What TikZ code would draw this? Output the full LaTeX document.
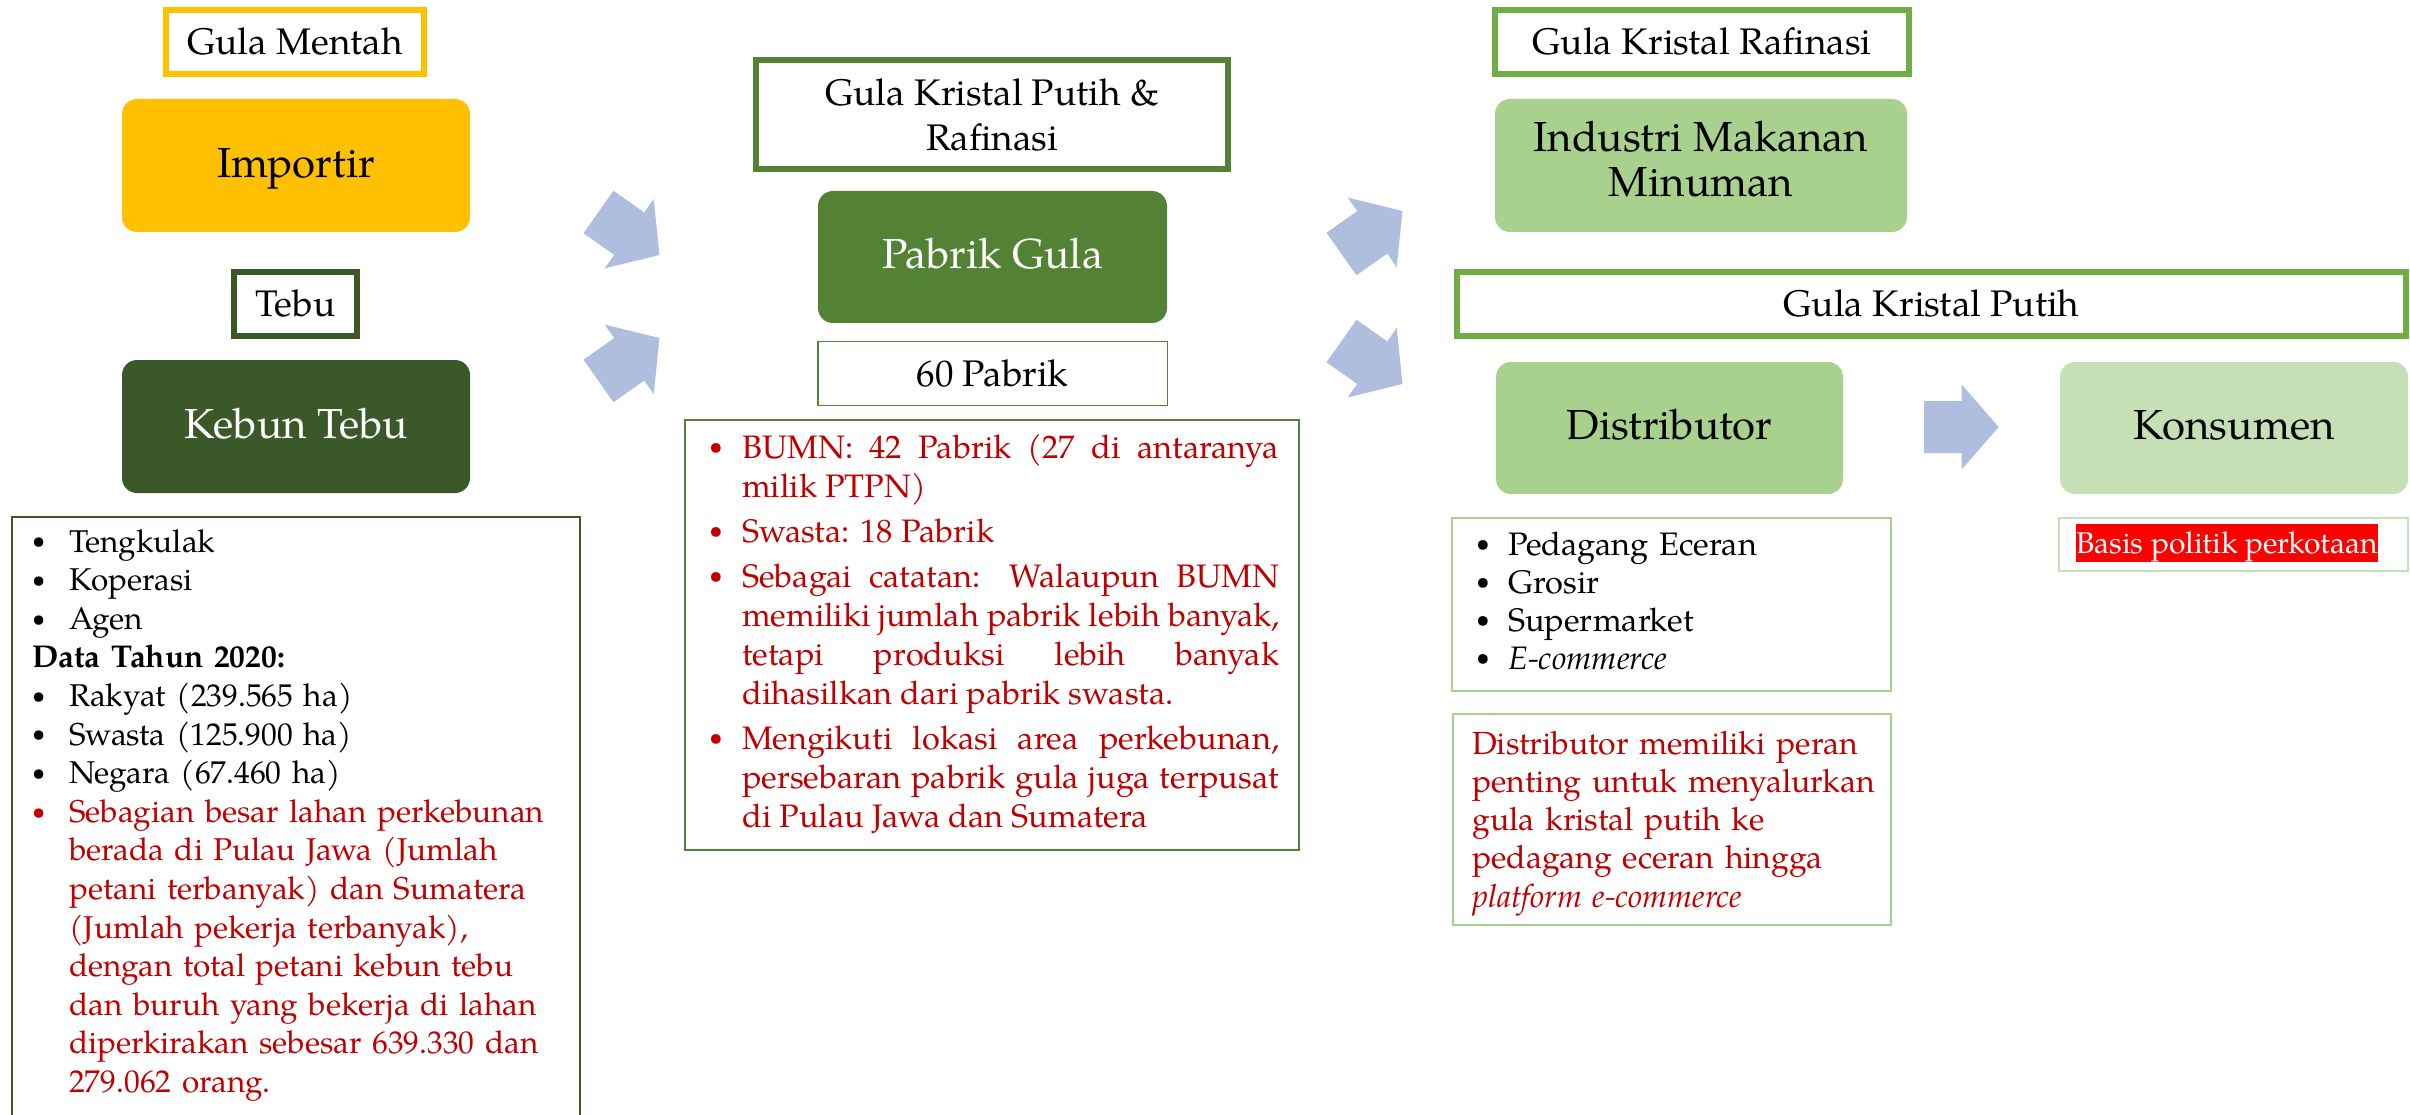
\documentclass[tikz,border=0pt]{standalone}
\usepackage{graphicx}
\usepackage{fontspec}
\setmainfont{TeX Gyre Pagella}
\definecolor{cyellow}{HTML}{FFC000}
\definecolor{cdark}{HTML}{3B5828}
\definecolor{cmid}{HTML}{548235}
\definecolor{clight}{HTML}{70AD47}
\definecolor{cfill}{HTML}{A9D18E}
\definecolor{cpale}{HTML}{C5E0B4}
\definecolor{carrow}{HTML}{AFBDDF}
\definecolor{cred}{HTML}{C00000}
\newcommand\mybul{\raisebox{0.1em}{\scalebox{0.75}{\textbullet}}}
\newcommand\itm[2]{\hangindent=#1\hangafter=1\noindent\hbox to #1{\mybul\hfil}#2\par}
\newcommand\blockarrow[2]{\fill[carrow, shift={(#1)}, rotate=#2] (0,-26) -- (37.6,-26) -- (37.6,-42.5) -- (74.6,0) -- (37.6,42.5) -- (37.6,26) -- (0,26) -- cycle;}
\begin{document}
\begin{tikzpicture}[x=1pt,y=-1pt,
  boxline/.style={draw, line width=6pt, fill=white, inner sep=0pt, font=\fontsize{37}{45}\selectfont},
  onel/.style={text height=33pt, text depth=8pt},
  rbox/.style={rounded corners=15pt, inner sep=0pt, font=\fontsize{42}{45}\selectfont},
  onem/.style={text height=33.6pt, text depth=10.5pt},
  thinbox/.style={line width=2pt, inner sep=0pt},
  txt/.style={anchor=base west, inner sep=0pt}]
\path[use as bounding box] (0,0) rectangle (2410,1115);
\clip (0,0) rectangle (2410,1115);
\fill[white] (0,0) rectangle (2410,1115);

% ---------- left column ----------
\node[boxline, onel, draw=cyellow, minimum width=258pt, minimum height=64pt] (gm) at (295,42) {Gula Mentah};
\node[rbox, onem, fill=cyellow, minimum width=348pt, minimum height=133pt] (imp) at (296,165.5) {Importir};
\node[boxline, onel, draw=cdark, minimum width=123pt, minimum height=64pt] (tebu) at (295.5,304) {Tebu};
\node[rbox, onem, fill=cdark, text=white, minimum width=348pt, minimum height=133pt] (kebun) at (296,426.5) {Kebun Tebu};
\node[thinbox, draw=cdark, anchor=north west, minimum width=568pt, minimum height=640pt] (leftbox) at (11,516) {};
\node[txt, text width=545pt, align=left, font=\fontsize{31.5}{38.6}\selectfont] (lefttxt) at (32,552) {\hyphenpenalty=10000%
\itm{37pt}{Tengkulak}
\itm{37pt}{Koperasi}
\itm{37pt}{Agen}
\noindent\textbf{Data Tahun 2020:}\par
\itm{37pt}{Rakyat (239.565 ha)}
\itm{37pt}{Swasta (125.900 ha)}
\itm{37pt}{Negara (67.460 ha)}
{\color{cred}\itm{37pt}{Sebagian besar lahan perkebunan\newline berada di Pulau Jawa (Jumlah\newline petani terbanyak) dan Sumatera\newline (Jumlah pekerja terbanyak),\newline dengan total petani kebun tebu\newline dan buruh yang bekerja di lahan\newline diperkirakan sebesar 639.330 dan\newline 279.062 orang.}}};

% ---------- arrows into and out of the mills ----------
\coordinate (a1) at (598.5,212);
\coordinate (a2) at (598.5,381);
\coordinate (a3) at (1341.5,254);
\coordinate (a4) at (1341.5,341);
\coordinate (a5) at (1924,427);
\blockarrow{a1}{-35.2}
\blockarrow{a2}{35.2}
\blockarrow{a3}{35.2}
\blockarrow{a4}{-35.2}
\blockarrow{a5}{0}

% ---------- middle column ----------
\node[boxline, draw=cmid, minimum width=472pt, minimum height=109pt, align=center] (gkpr) at (992,114.5) {Gula Kristal Putih \&\\Rafinasi};
\node[rbox, onem, fill=cmid, text=white, minimum width=349pt, minimum height=132pt] (pabrik) at (992.5,257) {Pabrik Gula};
\node[boxline, onel, draw=cmid, line width=1.5pt, minimum width=349.5pt, minimum height=63.5pt] (p60) at (992.5,373.5) {60 Pabrik};
\node[thinbox, draw=cmid, minimum width=614pt, minimum height=430pt] (midbox) at (992,635) {};
\node[txt, text width=570pt, align=justify, text=cred, font=\fontsize{32.5}{39}\selectfont] (midtxt) at (709,458) {\setlength{\parskip}{6pt}\tolerance=10000\hyphenpenalty=10000%
\itm{33pt}{BUMN: 42 Pabrik (27 di antaranya\linebreak milik PTPN)}
\itm{33pt}{Swasta: 18 Pabrik}
\itm{33pt}{Sebagai catatan: Walaupun BUMN\linebreak memiliki jumlah pabrik lebih banyak,\linebreak tetapi produksi lebih banyak\linebreak dihasilkan dari pabrik swasta.}
\itm{33pt}{Mengikuti lokasi area perkebunan,\linebreak persebaran pabrik gula juga terpusat\linebreak di Pulau Jawa dan Sumatera}};

% ---------- right column ----------
\node[boxline, onel, draw=clight, minimum width=414pt, minimum height=64pt] (gkr) at (1702,42) {Gula Kristal Rafinasi};
\node[rbox, fill=cfill, minimum width=412pt, minimum height=133pt, align=center] (industri) at (1701,165.5) {Industri Makanan\\Minuman\strut};
\node[boxline, onel, draw=clight, minimum width=949pt, minimum height=64pt] (gkp) at (1931.5,304) {Gula Kristal Putih};
\node[rbox, onem, fill=cfill, minimum width=347pt, minimum height=132pt] (distrib) at (1669.5,428) {Distributor};
\node[rbox, onem, fill=cpale, minimum width=348pt, minimum height=132pt] (kons) at (2234,428) {Konsumen};
\node[thinbox, draw=cfill, minimum width=439pt, minimum height=173pt] (pedbox) at (1671.5,604.5) {};
\node[txt, text width=400pt, align=left, font=\fontsize{32.5}{38}\selectfont] (pedtxt) at (1476,555) {%
\itm{32pt}{Pedagang Eceran}
\itm{32pt}{Grosir}
\itm{32pt}{Supermarket}
\itm{32pt}{\textit{E-commerce}}};
\node[thinbox, draw=cfill, minimum width=438pt, minimum height=211pt] (notebox) at (1672,819.5) {};
\node[txt, text width=415pt, align=left, text=cred, font=\fontsize{32}{38.25}\selectfont] (notetxt) at (1472,754) {Distributor memiliki peran\\penting untuk menyalurkan\\gula kristal putih ke\\pedagang eceran hingga\\\textit{platform e-commerce}};
\node[thinbox, draw=cpale, minimum width=349pt, minimum height=53pt] (basisbox) at (2233.5,544.5) {};
\node[fill=red, text=white, inner xsep=0pt, inner ysep=0pt, minimum height=38pt, text height=26pt, text depth=6pt, font=\fontsize{30}{36}\selectfont] (basis) at (2227,543) {Basis politik perkotaan};
\end{tikzpicture}
\end{document}
